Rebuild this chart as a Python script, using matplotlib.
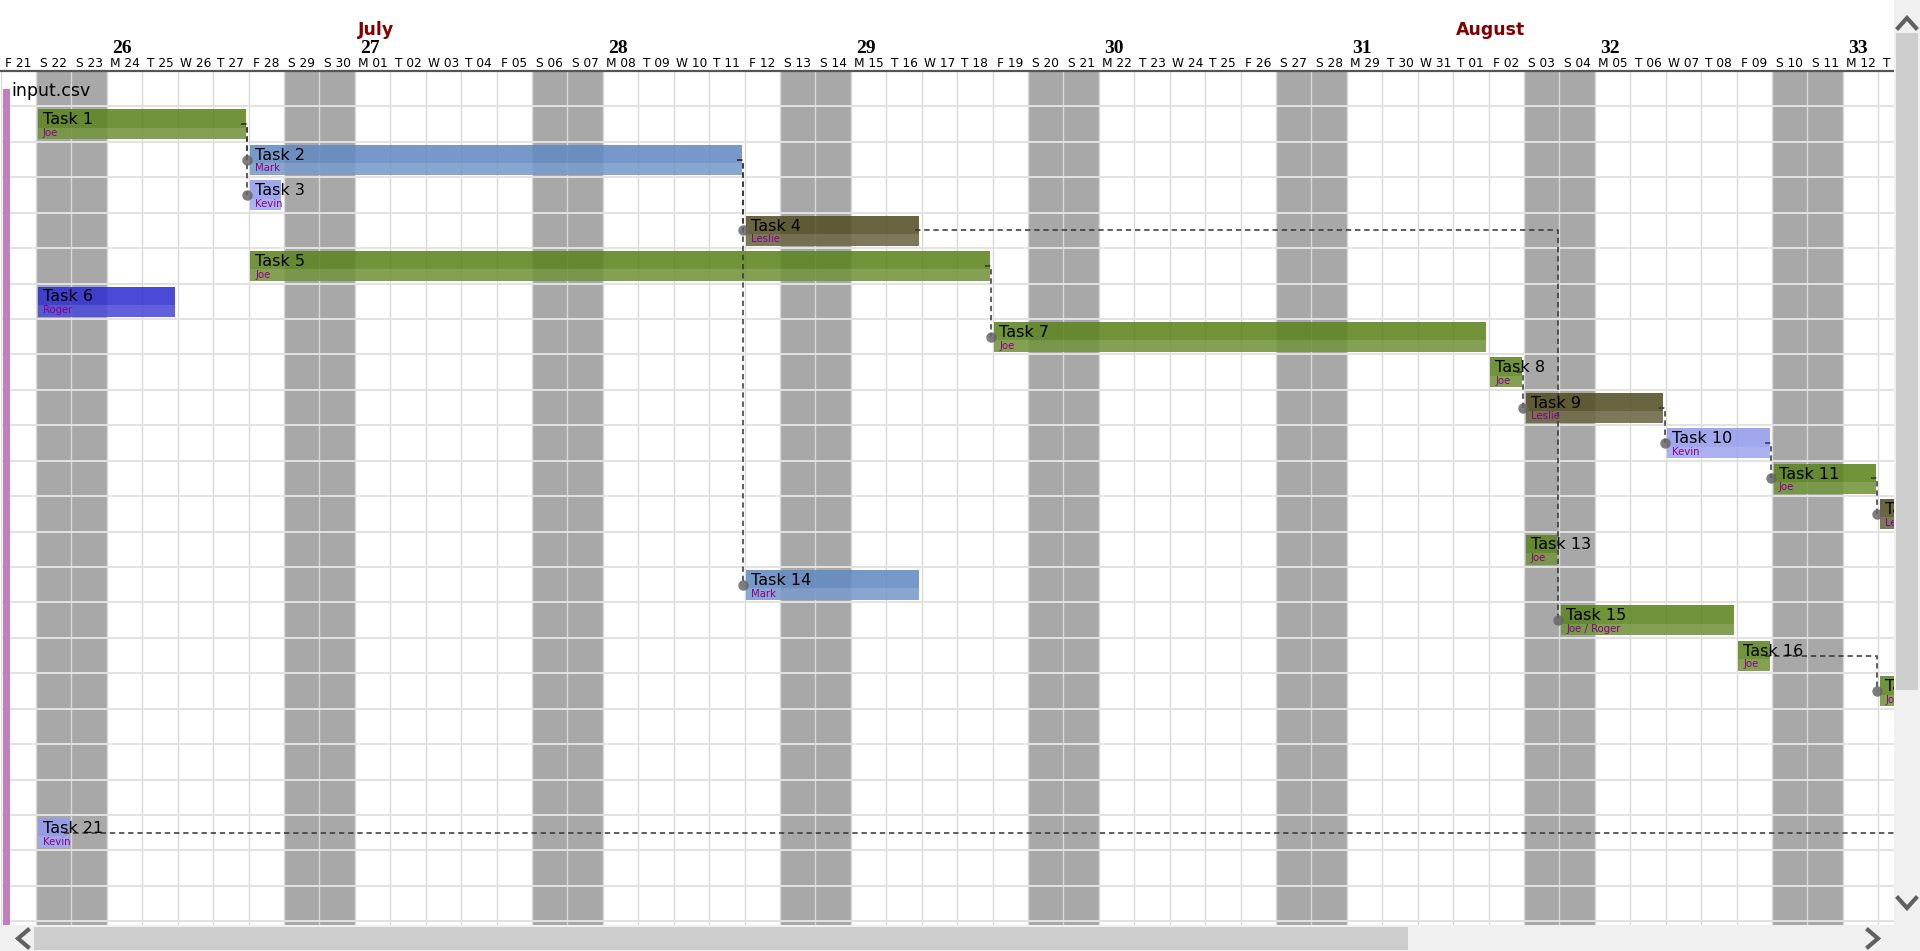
import datetime as dt

import matplotlib.pyplot as plt
import matplotlib.transforms as mtransforms
from matplotlib.lines import Line2D
from matplotlib.patches import Rectangle
import numpy as np

# calendar in view
first_day = dt.date(2019, 6, 21)
n_days = 54

# tasks
task_names = ["Task 1", "Task 2", "Task 3", "Task 4", "Task 5", "Task 6", "Task 7", "Task 8", "Task 9",
              "Task 10", "Task 11", "Task 12", "Task 13", "Task 14", "Task 15", "Task 16", "Task 17", "Task 21"]
task_rows = [1, 2, 3, 4, 5, 6, 7, 8, 9, 10, 11, 12, 13, 14, 15, 16, 17, 21]
task_start = ["2019-06-22", "2019-06-28", "2019-06-28", "2019-07-12", "2019-06-28", "2019-06-22",
              "2019-07-19", "2019-08-02", "2019-08-03", "2019-08-07", "2019-08-10", "2019-08-13",
              "2019-08-03", "2019-07-12", "2019-08-04", "2019-08-09", "2019-08-13", "2019-06-22"]
task_days = [6, 14, 1, 5, 21, 4, 14, 1, 4, 3, 3, 5, 1, 5, 5, 1, 3, 1]
task_res = ["Joe", "Mark", "Kevin", "Leslie", "Joe", "Roger", "Joe", "Joe", "Leslie",
            "Kevin", "Joe", "Leslie", "Joe", "Mark", "Joe / Roger", "Joe", "Joe", "Kevin"]

res_colors = {"Joe": "#5d841f", "Mark": "#648bc3", "Kevin": "#939beb", "Leslie": "#555026", "Roger": "#3131d1"}

# predecessor -> successor (None = off the view)
deps = [("Task 1", "Task 2"), ("Task 1", "Task 3"), ("Task 2", "Task 4"), ("Task 2", "Task 14"),
        ("Task 4", "Task 15"), ("Task 5", "Task 7"), ("Task 8", "Task 9"), ("Task 9", "Task 10"),
        ("Task 10", "Task 11"), ("Task 11", "Task 12"), ("Task 16", "Task 17"), ("Task 21", None)]

W, H = 1920, 951
cell = 35.43


def rect(x0, y0, x1, y1, color):
    fig.add_artist(Rectangle((x0 / W, 1 - y1 / H), (x1 - x0) / W, (y1 - y0) / H,
                             transform=fig.transFigure, color=color, lw=0))


def chevron(pts):
    fig.add_artist(Line2D([p[0] / W for p in pts], [1 - p[1] / H for p in pts],
                          transform=fig.transFigure, color="#606060", lw=3, solid_joinstyle="miter"))


fig = plt.figure(figsize=(W / 100, H / 100), dpi=100)
fig.patch.set_facecolor("white")

top, bottom, right = 71, 924.5, 1894
ax = fig.add_axes([0.5 / W, 1 - bottom / H, (right - 0.5) / W, (bottom - top) / H])
ax.set_xlim(0, (right - 0.5) / cell)
ax.set_ylim((bottom - top) / cell, 0)
ax.set_xticks([])
ax.set_yticks([])
for s in ["left", "right", "bottom"]:
    ax.spines[s].set_visible(False)
ax.spines["top"].set_color("#555555")
ax.spines["top"].set_linewidth(1.6)

days = [first_day + dt.timedelta(days=i) for i in range(n_days)]

# weekends
for i, d in enumerate(days):
    if d.weekday() >= 5:
        ax.axvspan(i, i + 1, color="#a8a8a8", lw=0, zorder=0.5)

# grid
for i in range(n_days + 1):
    ax.axvline(i, color="#d9d9d9", lw=1.0, zorder=1)
for r in range(1, 25):
    ax.axhline(r, color="#e2e2e2", lw=1.4, zorder=1)

# header
trans = mtransforms.blended_transform_factory(ax.transData, fig.transFigure)
for i, d in enumerate(days):
    ax.text(i + 0.5, 1 - 66.7 / H, f"{d.strftime('%a')[0]} {d.day:02d}", transform=trans,
            ha="center", va="baseline", fontsize=8.7, clip_on=False)
    if d.weekday() == 0:
        ax.text(i + 0.42, 1 - 53.3 / H, str(d.isocalendar()[1]), transform=trans, ha="center",
                va="baseline", fontsize=14, fontweight="bold", family="Liberation Serif", clip_on=False)
    if d.day == 1:
        ax.text(i + 0.09, 1 - 35 / H, d.strftime("%B"), transform=trans, ha="left", va="baseline",
                fontsize=12.5, fontweight="bold", color="#800000", clip_on=False)

ax.text(0.3, 0.71, "input.csv", fontsize=12.5, va="baseline", zorder=4)
ax.add_patch(Rectangle((0.08, 0.5), 0.19, 30, color="#c080c0", lw=0, zorder=5))

# bars
rows = np.array(task_rows)
dur = np.array(task_days)
starts = np.array([(dt.date.fromisoformat(s) - first_day).days for s in task_start])
colors = [res_colors[r.split(" / ")[0]] for r in task_res]

ax.barh(rows + 0.085, dur - 0.12, left=starts + 0.05, height=0.845, align="edge",
        color=colors, alpha=0.88, lw=0, zorder=2)
ax.barh(rows + 0.6, dur - 0.12, left=starts + 0.05, height=0.33, align="edge",
        color="white", alpha=0.13, lw=0, zorder=2.1)

for name, r, s, res in zip(task_names, rows, starts, task_res):
    ax.text(s + 0.19, r + 0.505, name, fontsize=11.5, va="baseline", zorder=4, clip_on=True)
    ax.text(s + 0.19, r + 0.835, res, fontsize=7.3, color="#8b008b", va="baseline", zorder=4, clip_on=True)

# dependencies
for a, b in deps:
    ia = task_names.index(a)
    x0 = starts[ia] + dur[ia] - 0.2
    y0 = rows[ia] + 0.5
    if b is None:
        xs, ys = [x0, ax.get_xlim()[1] + 1], [y0, y0]
    else:
        ib = task_names.index(b)
        xb = starts[ib] - 0.03
        yb = rows[ib] + 0.5
        xs, ys = [x0, xb, xb], [y0, y0, yb]
        ax.plot(xb, yb, "o", ms=7.5, color="#666666", alpha=0.85, mew=0, zorder=3.5)
    ax.plot(xs, ys, color="#333333", lw=1.1, ls=(0, (3.5, 2.5)), zorder=3)

# scrollbars
rect(1894, 0, 1920, 951, "#f0f0f0")
rect(1896, 33, 1918, 690, "#cdcdcd")
rect(0, 925, 1920, 951, "#f0f0f0")
rect(34, 927, 1408, 950, "#cdcdcd")
chevron([(1898, 28), (1907, 18), (1916, 28)])
chevron([(1898, 898), (1907, 908), (1916, 898)])
chevron([(28, 930), (18, 938.5), (28, 947)])
chevron([(1868, 930), (1878, 938.5), (1868, 947)])

plt.savefig("out.png", dpi=100)
